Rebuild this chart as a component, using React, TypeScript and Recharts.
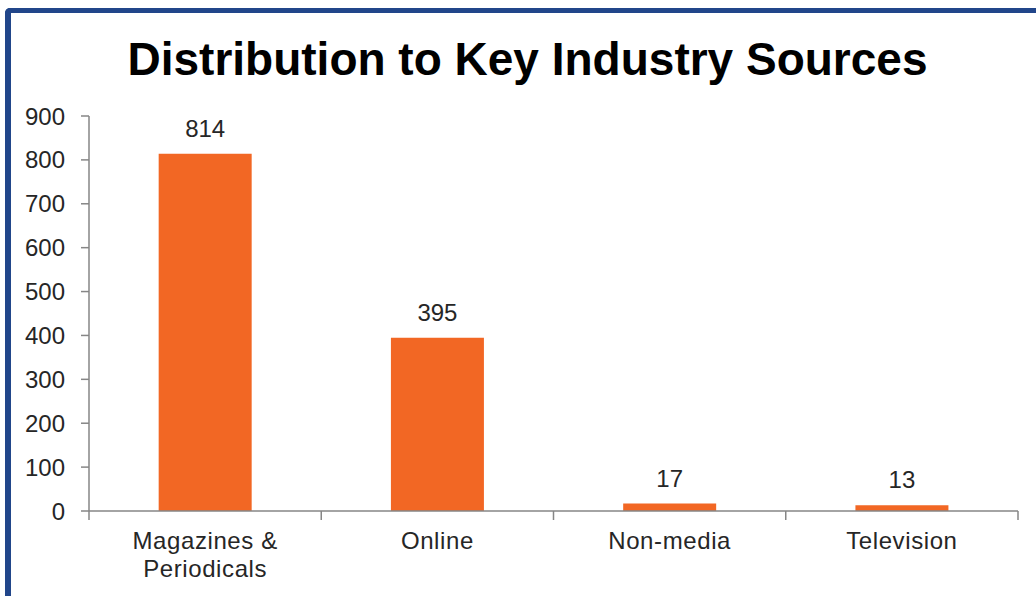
import React from "react";
import { Bar, BarChart, LabelList, XAxis, YAxis } from "recharts";

const categories = ["Magazines & Periodicals", "Online", "Non-media", "Television"];
const distribution = [814, 395, 17, 13];
const yTicks = [0, 100, 200, 300, 400, 500, 600, 700, 800, 900];

const data = categories.map((name, i) => ({ name, value: distribution[i] }));

const W = 1036;
const H = 596;
const FONT = "'Liberation Sans', Arial, sans-serif";
const axisColor = "#868686";
const textColor = "#262626";
const barColor = "#F26724";
const margin = { top: 116, right: 18, left: 0, bottom: 0 };
const yAxisWidth = 89;

// greedy word wrap, about 12 characters per line
function wrap(label: string, max = 12) {
  const lines: string[] = [];
  for (const w of label.split(" ")) {
    const cur = lines[lines.length - 1];
    if (cur !== undefined && (cur + " " + w).length <= max) lines[lines.length - 1] = cur + " " + w;
    else lines.push(w);
  }
  return lines;
}

// x ticks sit on the category boundaries, like the Excel original
function CategoryTick(props: any) {
  const { x, y, payload, index, visibleTicksCount } = props;
  const plotW = W - margin.left - margin.right - yAxisWidth;
  const half = payload?.offset || plotW / categories.length / 2;
  const last = index === (visibleTicksCount ?? categories.length) - 1;
  return (
    <g>
      <line x1={x - half} x2={x - half} y1={y} y2={y + 9} stroke={axisColor} strokeWidth={1.5} />
      {last && <line x1={x + half} x2={x + half} y1={y} y2={y + 9} stroke={axisColor} strokeWidth={1.5} />}
      <text
        x={x}
        y={y + 38}
        textAnchor="middle"
        fill={textColor}
        style={{ fontSize: 24, fontFamily: FONT, letterSpacing: 0.6 }}
      >
        {wrap(String(payload.value)).map((line, i) => (
          <tspan key={i} x={x} dy={i === 0 ? 0 : 28}>
            {line}
          </tspan>
        ))}
      </text>
    </g>
  );
}

export default function App() {
  return (
    <div style={{ position: "absolute", left: 0, top: 0, width: W, height: H, background: "#fff", overflow: "hidden" }}>
      <div
        style={{
          position: "absolute",
          left: 5,
          top: 8,
          width: W + 20,
          height: H + 20,
          borderLeft: "6px solid #21468A",
          borderTop: "5px solid #21468A",
          borderTopLeftRadius: 5,
          boxSizing: "border-box",
        }}
      />
      <div style={{ position: "absolute", left: 0, top: 0 }}>
        <BarChart width={W} height={H} data={data} margin={margin} barCategoryGap="30%">
          <text
            x={527.5}
            y={75}
            textAnchor="middle"
            style={{ fontSize: 46, fontWeight: "bold", fontFamily: FONT, fill: "#000" }}
          >
            Distribution to Key Industry Sources
          </text>
          <XAxis
            dataKey="name"
            tickLine={false}
            tickSize={0}
            tickMargin={0}
            axisLine={{ stroke: axisColor, strokeWidth: 1.5 }}
            tick={<CategoryTick />}
            interval={0}
            height={85}
          />
          <YAxis
            width={yAxisWidth}
            domain={[0, 900]}
            ticks={yTicks}
            interval={0}
            tickSize={8}
            tickMargin={16}
            tickLine={{ stroke: axisColor, strokeWidth: 1.5 }}
            axisLine={{ stroke: axisColor, strokeWidth: 1.5 }}
            tick={{ fill: textColor, fontSize: 24, fontFamily: FONT }}
          />
          <Bar dataKey="value" fill={barColor} isAnimationActive={false}>
            <LabelList
              dataKey="value"
              position="top"
              offset={17}
              fill={textColor}
              style={{ fontSize: 24, fontFamily: FONT }}
            />
          </Bar>
        </BarChart>
      </div>
    </div>
  );
}
